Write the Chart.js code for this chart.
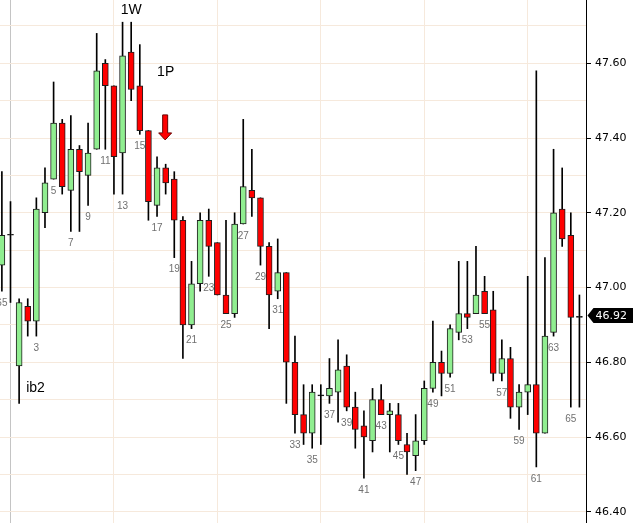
<!DOCTYPE html>
<html><head><meta charset="utf-8">
<script src="https://cdn.jsdelivr.net/npm/chart.js@4/dist/chart.umd.min.js"></script>
<style>html,body{margin:0;padding:0;background:#fff;overflow:hidden}#wrap{position:relative;width:640px;height:523px}</style>
</head><body><div id="wrap"><canvas id="c" width="640" height="523"></canvas></div>
<script>
// Bar numbers (x categories)
const bars = [-1,0,1,2,3,4,5,6,7,8,9,10,11,12,13,14,15,16,17,18,19,20,21,22,23,24,25,26,27,28,29,30,31,32,33,34,35,36,37,38,39,40,41,42,43,44,45,46,47,48,49,50,51,52,53,54,55,56,57,58,59,60,61,62,63,64,65,66];
const opens = [47.06,47.14,46.79,46.95,46.91,47.20,47.29,47.44,47.26,47.37,47.30,47.37,47.60,47.54,47.36,47.63,47.54,47.42,47.22,47.32,47.29,47.18,46.90,47.01,47.18,47.12,46.98,46.93,47.17,47.26,47.24,47.11,46.99,47.04,46.80,46.66,46.61,46.71,46.71,46.72,46.79,46.68,46.63,46.59,46.70,46.66,46.66,46.58,46.55,46.59,46.73,46.80,46.77,46.88,46.93,46.93,46.99,46.94,46.77,46.81,46.68,46.72,46.74,46.61,46.88,47.21,47.14,46.92];
const highs = [47.31,47.23,46.97,46.97,47.24,47.32,47.55,47.45,47.46,47.38,47.44,47.68,47.61,47.54,47.71,47.71,47.65,47.42,47.35,47.33,47.31,47.19,47.07,47.20,47.21,47.12,47.18,47.20,47.45,47.37,47.24,47.12,47.13,47.04,46.87,46.74,46.74,46.74,46.81,46.86,46.82,46.72,46.67,46.73,46.74,46.69,46.69,46.61,46.66,46.75,46.91,46.83,46.90,47.07,47.07,47.11,47.03,46.99,46.86,46.84,46.74,47.03,47.58,47.08,47.37,47.32,47.20,46.98];
const lows = [46.99,46.96,46.69,46.87,46.87,47.16,47.29,47.25,47.15,47.15,47.22,47.37,47.37,47.25,47.25,47.50,47.41,47.18,47.19,47.25,47.08,46.81,46.89,46.99,47.03,46.98,46.93,46.92,47.17,47.19,47.06,46.89,46.97,46.69,46.61,46.58,46.57,46.58,46.69,46.64,46.67,46.57,46.49,46.56,46.66,46.56,46.58,46.50,46.51,46.58,46.72,46.71,46.76,46.86,46.89,46.93,46.93,46.75,46.75,46.65,46.62,46.66,46.52,46.61,46.87,47.11,46.68,46.68];
const closes = [47.14,47.14,46.96,46.91,47.21,47.28,47.44,47.27,47.37,47.31,47.36,47.58,47.54,47.35,47.62,47.53,47.42,47.23,47.32,47.28,47.18,46.90,47.01,47.18,47.11,46.98,46.93,47.17,47.27,47.24,47.11,46.98,47.04,46.80,46.66,46.61,46.72,46.71,46.73,46.78,46.68,46.62,46.60,46.70,46.66,46.67,46.59,46.56,46.59,46.73,46.80,46.77,46.89,46.93,46.92,46.98,46.93,46.77,46.81,46.68,46.72,46.74,46.61,46.87,47.20,47.13,46.92,46.92];

// Axis ticks
const yTickValues = [46.40,46.50,46.60,46.70,46.80,46.90,47.00,47.10,47.20,47.30,47.40,47.50,47.60,47.70];
const yTickLabels = ['46.40','','46.60','','46.80','','47.00','','47.20','','47.40','','47.60',''];
const xGridBars = [0,12,24,36,48,60];

// Bar-number labels
const numberBars = [-1,3,5,7,9,11,13,15,17,19,21,23,25,27,29,31,33,35,37,39,41,43,45,47,49,51,53,55,57,59,61,63,65];
const numberTexts = ['65','3','5','7','9','11','13','15','17','19','21','23','25','27','29','31','33','35','37','39','41','43','45','47','49','51','53','55','57','59','61','63','65'];

// Text notes
const noteTexts = ['1W','1P','ib2'];
const noteBars = [14,18,2.9];
const noteValues = [47.743,47.577,46.731];

// Signal arrow
const arrowBar = 18;
const arrowTop = 47.462;
const arrowTip = 47.395;

const lastPrice = 46.92;

const GREEN = '#90EE90', RED = '#FF0000', GRID = '#F6E9DC', SEP = '#C4C4C4';

const overlay = {
  id: 'overlay',
  afterDatasetsDraw(chart) {
    const {ctx} = chart; const x = chart.scales.x, y = chart.scales.y;
    ctx.save();
    ctx.textAlign = 'center'; ctx.textBaseline = 'middle';
    ctx.font = '10px "Liberation Sans", Arial, sans-serif';
    ctx.fillStyle = '#707070';
    numberBars.forEach((b, k) => {
      const idx = bars.indexOf(b);
      ctx.fillText(numberTexts[k], x.getPixelForValue(b), y.getPixelForValue(lows[idx]) + 12);
    });
    ctx.font = '14px "Liberation Sans", Arial, sans-serif';
    ctx.fillStyle = '#000';
    noteTexts.forEach((t, k) => ctx.fillText(t, x.getPixelForValue(noteBars[k]), y.getPixelForValue(noteValues[k])));
    // arrow
    const ax = x.getPixelForValue(arrowBar) - 0.5;
    const yt = y.getPixelForValue(arrowTop), yp = y.getPixelForValue(arrowTip);
    const hh = 7;
    ctx.beginPath();
    ctx.moveTo(ax - 2.5, yt); ctx.lineTo(ax + 2.5, yt); ctx.lineTo(ax + 2.5, yp - hh);
    ctx.lineTo(ax + 6.5, yp - hh); ctx.lineTo(ax, yp); ctx.lineTo(ax - 6.5, yp - hh);
    ctx.lineTo(ax - 2.5, yp - hh); ctx.closePath();
    ctx.fillStyle = '#FF0000'; ctx.fill();
    ctx.strokeStyle = '#6a0000'; ctx.lineWidth = 1; ctx.stroke();
    ctx.restore();
  },
  afterDraw(chart) {
    const {ctx} = chart; const y = chart.scales.y;
    const left = y.left;
    const yy = Math.round(y.getPixelForValue(lastPrice)) - 1.5;
    ctx.save();
    ctx.beginPath();
    ctx.moveTo(left + 1.5, yy); ctx.lineTo(left + 7.5, yy - 7.5); ctx.lineTo(left + 47, yy - 7.5);
    ctx.lineTo(left + 47, yy + 7.5); ctx.lineTo(left + 7.5, yy + 7.5); ctx.closePath();
    ctx.fillStyle = '#000'; ctx.fill();
    ctx.fillStyle = '#fff'; ctx.font = '11px "DejaVu Sans", sans-serif';
    ctx.textAlign = 'left'; ctx.textBaseline = 'middle';
    ctx.fillText(lastPrice.toFixed(2), left + 9.5, yy + 0.5);
    ctx.restore();
  }
};

new Chart(document.getElementById('c'), {
  type: 'bar',
  data: {
    datasets: [
      {
        label: 'body',
        data: bars.map((b, k) => ({x: b, y: [opens[k], closes[k]]})),
        backgroundColor: c => closes[c.dataIndex] > opens[c.dataIndex] ? GREEN : (closes[c.dataIndex] < opens[c.dataIndex] ? RED : '#000'),
        borderColor: '#1e1e1e', borderWidth: 1, borderSkipped: false,
        barThickness: 6, minBarLength: 1, grouped: false, order: 0
      },
      {
        label: 'wick',
        data: bars.map((b, k) => ({x: b, y: [lows[k], highs[k]]})),
        backgroundColor: '#000', borderWidth: 0,
        barThickness: 1, grouped: false, order: 1
      }
    ]
  },
  options: {
    responsive: false, animation: false, devicePixelRatio: 1, events: [],
    layout: {padding: 0},
    plugins: {legend: {display: false}, tooltip: {enabled: false}},
    scales: {
      x: {
        type: 'linear', min: -1.218, max: 66.763, offset: false,
        afterBuildTicks: s => { s.ticks = xGridBars.map(v => ({value: v})); },
        afterFit: s => { s.height = 0; s.paddingLeft = 0; s.paddingRight = 0; },
        ticks: {display: false},
        grid: {color: c => (c.tick && c.tick.value === 0) ? SEP : GRID, drawTicks: false, lineWidth: 1, offset: false},
        border: {display: false}
      },
      y: {
        type: 'linear', position: 'right', min: 46.3699, max: 47.7694,
        afterBuildTicks: s => { s.ticks = yTickValues.map(v => ({value: v})); },
        afterFit: s => { s.width = 54; s.paddingTop = 0; s.paddingBottom = 0; },
        ticks: {callback: (v, i) => yTickLabels[i], font: {family: 'DejaVu Sans', size: 11}, color: '#000', padding: 4, autoSkip: false, maxRotation: 0},
        grid: {color: GRID, lineWidth: 1, drawTicks: true, tickLength: 5, tickColor: c => yTickLabels[c.index] ? '#000' : 'rgba(0,0,0,0)'},
        border: {display: true, color: '#000', width: 1}
      }
    }
  },
  plugins: [overlay]
});
</script>
</body></html>
